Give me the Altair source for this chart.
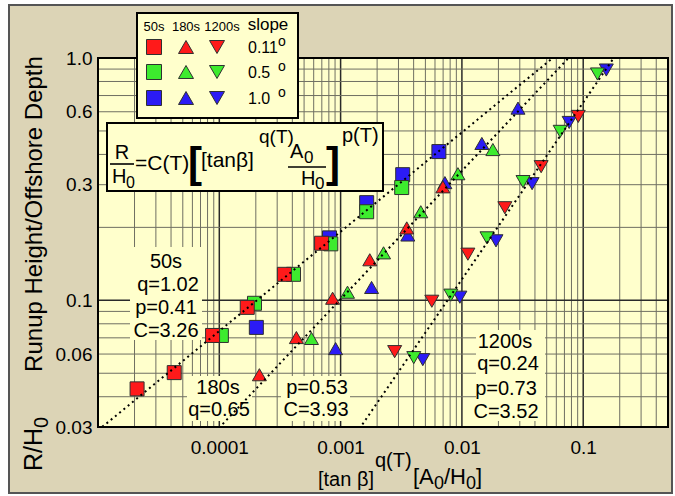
import altair as alt
import pandas as pd

# ------------------------------------------------------------------ data
periods = ["50s", "180s", "1200s"]
slopes = ["0.11°", "0.5°", "1.0°"]
slope_labels = ["0.11", "0.5 ", "1.0 "]

# 50 s waves (squares)
s50_red_x = [2.1e-5, 4.25e-5, 8.8e-5, 1.70e-4, 3.44e-4, 6.97e-4]
s50_red_y = [0.0431, 0.0503, 0.0716, 0.0935, 0.128, 0.172]
s50_green_x = [1.04e-4, 1.95e-4, 4.09e-4, 8.3e-4, 1.64e-3, 3.19e-3]
s50_green_y = [0.0716, 0.0972, 0.128, 0.171, 0.232, 0.292]
s50_blue_x = [2.02e-4, 8.1e-4, 1.64e-3, 3.25e-3, 6.46e-3]
s50_blue_y = [0.0773, 0.181, 0.253, 0.330, 0.411]

# 180 s waves (up triangles)
s180_red_x = [2.14e-4, 4.32e-4, 8.59e-4, 1.74e-3, 3.51e-3, 6.97e-3]
s180_red_y = [0.0493, 0.0702, 0.102, 0.147, 0.199, 0.294]
s180_green_x = [5.75e-4, 1.14e-3, 2.26e-3, 4.58e-3, 9.27e-3, 0.0180]
s180_green_y = [0.0696, 0.108, 0.157, 0.232, 0.333, 0.419]
s180_blue_x = [9.09e-4, 1.80e-3, 3.58e-3, 7.24e-3, 0.0146, 0.0290]
s180_blue_y = [0.0632, 0.113, 0.186, 0.306, 0.444, 0.621]

# 1200 s waves (down triangles)
s1200_red_x = [2.79e-3, 5.65e-3, 0.0112, 0.0226, 0.0450, 0.0910]
s1200_red_y = [0.0614, 0.0991, 0.155, 0.241, 0.356, 0.574]
s1200_green_x = [4.01e-3, 8.11e-3, 0.0161, 0.0319, 0.0646, 0.131]
s1200_green_y = [0.0580, 0.105, 0.181, 0.309, 0.498, 0.859]
s1200_blue_x = [4.76e-3, 9.62e-3, 0.0191, 0.0379, 0.0766, 0.155]
s1200_blue_y = [0.0569, 0.103, 0.176, 0.303, 0.542, 0.892]

# fitted relation R/H0 = C (x)^p
fit_C = [3.26, 3.93, 3.52]
fit_p = [0.41, 0.53, 0.73]
fit_q = [1.02, 0.65, 0.24]

x_domain = [1e-5, 0.5]
y_domain = [0.03, 1.0]
x_tick_vals = [0.0001, 0.001, 0.01, 0.1]
x_tick_labels = ["0.0001", "0.001", "0.01", "0.1"]
y_tick_vals = [1.0, 0.6, 0.3, 0.1, 0.06, 0.03]
y_tick_labels = ["1.0", "0.6", "0.3", "0.1", "0.06", "0.03"]
multipliers = [1, 2, 3, 4, 5, 6, 7, 8, 9]

# ------------------------------------------------------------------ tables
series = [
    ("50s", "1.0°", s50_blue_x, s50_blue_y), ("50s", "0.5°", s50_green_x, s50_green_y),
    ("50s", "0.11°", s50_red_x, s50_red_y),
    ("180s", "1.0°", s180_blue_x, s180_blue_y), ("180s", "0.5°", s180_green_x, s180_green_y),
    ("180s", "0.11°", s180_red_x, s180_red_y),
    ("1200s", "1.0°", s1200_blue_x, s1200_blue_y), ("1200s", "0.5°", s1200_green_x, s1200_green_y),
    ("1200s", "0.11°", s1200_red_x, s1200_red_y),
]
rows = []
for per, sl, xs, ys in series:
    for xv, yv in zip(xs, ys):
        rows.append({"x": xv, "y": yv, "period": per, "slope": sl})
pts = pd.DataFrame(rows)

fit_rows = []
for per, c, p in zip(periods, fit_C, fit_p):
    for xv in x_domain:
        fit_rows.append({"x": xv, "y": c * xv ** p, "period": per})
fits = pd.DataFrame(fit_rows)

x_minor, x_major = [], []
for e in range(-5, 0):
    for m in multipliers:
        v = float(f"{m}e{e}")
        if v <= x_domain[1]:
            (x_major if m == 1 else x_minor).append(v)
y_minor, y_major = [], []
for e in range(-2, 1):
    for m in multipliers:
        v = float(f"{m}e{e}")
        if y_domain[0] <= v <= y_domain[1]:
            (y_major if m == 1 else y_minor).append(v)

# ------------------------------------------------------------------ style
FONT = "Liberation Sans"
W, H = 570, 369
BEIGE = "#DCD4B6"
PLOTBG = "#FFFFCC"
RED, GREEN, BLUE = "#FF1A1A", "#3DEB2E", "#2B1BF5"
slope_colors = [RED, GREEN, BLUE]
shapes = ["square", "triangle-up", "triangle-down"]

xscale = alt.Scale(type="log", domain=x_domain, nice=False)
yscale = alt.Scale(type="log", domain=y_domain, nice=False)
xaxis = alt.Axis(values=x_tick_vals, title=None, grid=False, ticks=False, domain=False,
                 labelExpr=f"{x_tick_labels}[indexof({x_tick_vals}, datum.value)]",
                 labelFont=FONT, labelFontSize=19, labelColor="black", labelPadding=11,
                 labelFlush=False, labelOverlap=False, zindex=1)
yaxis = alt.Axis(values=y_tick_vals, title=None, grid=False, ticks=False, domain=False,
                 labelExpr=f"{y_tick_labels}[indexof({y_tick_vals}, datum.value)]",
                 labelFont=FONT, labelFontSize=19, labelColor="black", labelPadding=6,
                 labelFlush=False, labelOverlap=False, zindex=1)

one = pd.DataFrame({"k": [0]})


def txt(s, x, y, size, align="left", weight="normal", angle=None, color="black"):
    kw = dict(text=s, fontSize=size, align=align, baseline="alphabetic", font=FONT,
              color=color, fontWeight=weight)
    if angle is not None:
        kw["angle"] = angle
    return alt.Chart(one).mark_text(**kw).encode(x=alt.value(x), y=alt.value(y))


def box(x1, y1, x2, y2, fill, stroke=None, sw=0):
    kw = dict(fill=fill, fillOpacity=1 if fill != "none" else 0)
    if stroke:
        kw.update(stroke=stroke, strokeWidth=sw)
    return alt.Chart(one).mark_rect(**kw).encode(
        x=alt.value(x1), x2=alt.value(x2), y=alt.value(y1), y2=alt.value(y2))


def hline(x1, x2, y, w=1.6):
    return alt.Chart(one).mark_rule(color="black", strokeWidth=w).encode(
        x=alt.value(x1), x2=alt.value(x2), y=alt.value(y))


def sym(shape, color, x, y, size=225):
    return alt.Chart(one).mark_point(shape=shape, filled=True, fill=color, stroke="#303030",
                                     strokeWidth=1, size=size, opacity=1).encode(
        x=alt.value(x), y=alt.value(y))


layers = []
# outer frame and plot background
layers.append(box(-89, -53, 574, 435, BEIGE, "#555555", 2))
layers.append(box(0, 0, W, H, PLOTBG))

# grid
for vals, col, sw in [(x_minor, "#6f6f62", 1), (x_major, "#2a2a2a", 1.5)]:
    layers.append(alt.Chart(pd.DataFrame({"v": vals})).mark_rule(color=col, strokeWidth=sw).encode(
        x=alt.X("v:Q", scale=xscale, axis=xaxis)))
for vals, col, sw in [(y_minor, "#6f6f62", 1), (y_major, "#2a2a2a", 1.5)]:
    layers.append(alt.Chart(pd.DataFrame({"v": vals})).mark_rule(color=col, strokeWidth=sw).encode(
        y=alt.Y("v:Q", scale=yscale, axis=yaxis)))

# opaque backgrounds of the annotation texts
for b in [(32, 189, 104, 282), (89, 318, 154, 363), (183, 318, 252, 363), (378, 272, 447, 363)]:
    layers.append(box(*b, PLOTBG))

# data points
layers.append(alt.Chart(pts).mark_point(filled=True, stroke="#303030", strokeWidth=1,
                                         size=196, opacity=1).encode(
    x=alt.X("x:Q", scale=xscale, axis=xaxis),
    y=alt.Y("y:Q", scale=yscale, axis=yaxis),
    shape=alt.Shape("period:N", scale=alt.Scale(domain=periods, range=shapes), legend=None),
    fill=alt.Fill("slope:N", scale=alt.Scale(domain=slopes, range=slope_colors), legend=None),
))

# fitted lines (dotted)
layers.append(alt.Chart(fits).mark_line(clip=True, color="black", strokeWidth=2,
                                        strokeDash=[2, 3.5]).encode(
    x=alt.X("x:Q", scale=xscale, axis=xaxis),
    y=alt.Y("y:Q", scale=yscale, axis=yaxis),
    detail="period:N"))

# plot border
layers.append(box(0, 0, W, H, "none", "black", 2))

# annotations of fit parameters
layers += [
    txt("50s", 68, 210, 20, "center"),
    txt(f"q={fit_q[0]:.2f}", 70, 233, 20, "center"),
    txt(f"p={fit_p[0]:.2f}", 68, 256, 20, "center"),
    txt(f"C={fit_C[0]:.2f}", 68, 279, 20, "center"),
    txt("180s", 120, 336, 20, "center"),
    txt(f"q={fit_q[1]:.2f}", 121, 358, 20, "center"),
    txt(f"p={fit_p[1]:.2f}", 219, 336, 20, "center"),
    txt(f"C={fit_C[1]:.2f}", 218, 358, 20, "center"),
    txt("1200s", 407, 290, 20, "center"),
    txt(f"q={fit_q[2]:.2f}", 410, 312, 20, "center"),
    txt(f"p={fit_p[2]:.2f}", 408, 337, 20, "center"),
    txt(f"C={fit_C[2]:.2f}", 408, 360, 20, "center"),
]

# legend box
layers.append(box(39, -45, 200, 60, PLOTBG, "black", 2))
lx = [56, 88, 119]
ly = [-11, 14, 40]
for i, per in enumerate(periods):
    layers.append(txt(per, lx[i] + (5 if per == "1200s" else 0), -27, 13, "center"))
layers.append(txt("slope", 170, -28, 17, "center"))
for r, (col, lab) in enumerate(zip(slope_colors, slope_labels)):
    for c, shp in enumerate(shapes):
        layers.append(sym(shp, col, lx[c], ly[r]))
    layers.append(txt(lab, 150, ly[r] + 6, 16, "left"))
    layers.append(txt("o", 180, ly[r] - 1, 14, "left"))

# equation box
layers.append(box(9, 65, 285, 133, PLOTBG, "black", 2))
layers += [
    txt("R", 24, 101, 20, "center"),
    hline(12, 36, 106),
    txt("H", 14, 125, 20, "left"),
    txt("0", 28, 130, 16, "left"),
    txt("=C(T)", 37, 112, 21, "left"),
    txt("[", 90, 119, 42, "left", "bold"),
    txt("[tan\u03b2]", 103, 109, 21, "left"),
    txt("q(T)", 161, 85, 19, "left"),
    txt("A", 192, 100, 20, "left"),
    txt("0", 206, 105, 17, "left"),
    hline(190, 228, 109),
    txt("H", 203, 127, 20, "left"),
    txt("0", 217, 131, 17, "left"),
    txt("]", 242, 119, 42, "right", "bold"),
    txt("p(T)", 244, 84, 20, "left"),
]

# axis titles
layers += [
    txt("Runup Height/Offshore Depth", -56, 156, 24, "center", angle=270),
    txt("R/H", -56, 413, 25, "left", angle=270),
    txt("0", -50, 370, 20, "left", angle=270),
    txt("[tan \u03b2]", 220, 428, 20, "left"),
    txt("q(T)", 277, 409, 20, "left"),
    txt("[A", 315, 426, 22, "left"),
    txt("0", 336, 431, 18, "left"),
    txt("/H", 346, 426, 22, "left"),
    txt("0", 368, 431, 18, "left"),
    txt(" ]", 378, 426, 22, "left"),
]

chart = alt.layer(*layers).properties(
    width=W, height=H,
    autosize=alt.AutoSizeParams(type="none"),
    padding={"left": 98, "top": 58, "right": 7, "bottom": 69},
    background="white",
).configure_view(stroke=None)

chart.save("out.html", embed_options={"renderer": "svg", "actions": False})
